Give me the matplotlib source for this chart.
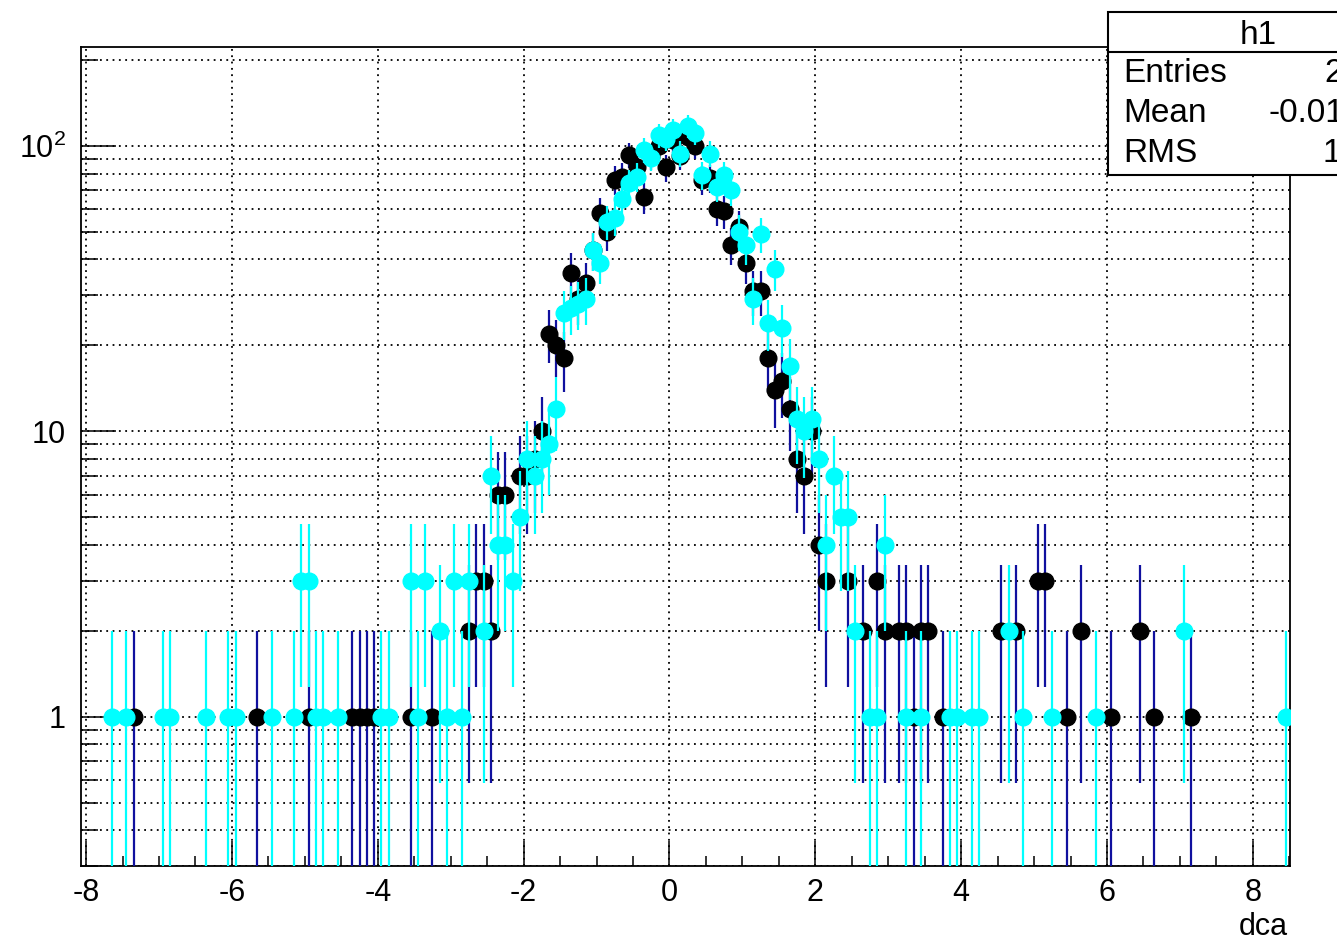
import numpy as np
import matplotlib
matplotlib.use("Agg")
import matplotlib.pyplot as plt
from matplotlib.ticker import LogLocator, FixedLocator, MultipleLocator, NullFormatter, FixedFormatter
from matplotlib.patches import Rectangle
from matplotlib.lines import Line2D

plt.rcParams["font.family"] = ["Liberation Sans", "DejaVu Sans"]
plt.rcParams["axes.unicode_minus"] = False

# DATA (bin centres, bin width 0.1)
black_x = [-7.35, -5.65, -4.95, -4.35, -4.25, -4.15, -4.05, -3.55, -3.25, -2.75,
           -2.65, -2.55, -2.45, -2.35, -2.25, -2.05, -1.95, -1.85, -1.75, -1.65,
           -1.55, -1.45, -1.35, -1.25, -1.15, -1.05, -0.95, -0.85, -0.75, -0.65,
           -0.55, -0.45, -0.35, -0.25, -0.15, -0.05, 0.05, 0.15, 0.25, 0.35,
           0.45, 0.55, 0.65, 0.75, 0.85, 0.95, 1.05, 1.15, 1.25, 1.35,
           1.45, 1.55, 1.65, 1.75, 1.85, 1.95, 2.05, 2.15, 2.45, 2.65,
           2.85, 2.95, 3.15, 3.25, 3.35, 3.45, 3.55, 3.75, 4.55, 4.75,
           5.05, 5.15, 5.45, 5.65, 6.05, 6.45, 6.65, 7.15]
black_n = [1, 1, 1, 1, 1, 1, 1, 1, 1, 2,
           3, 3, 2, 6, 6, 7, 7, 8, 10, 22,
           20, 18, 36, 29, 33, 43, 58, 50, 76, 78,
           93, 84, 66, 92, 100, 84, 105, 92, 107, 100,
           76, 77, 60, 59, 45, 52, 39, 31, 31, 18,
           14, 15, 12, 8, 7, 10, 4, 3, 3, 2,
           3, 2, 2, 2, 1, 2, 2, 1, 2, 2,
           3, 3, 1, 2, 1, 2, 1, 1]

cyan_x = [-7.65, -7.45, -6.95, -6.85, -6.35, -6.05, -5.95, -5.45, -5.15, -5.05,
          -4.95, -4.85, -4.75, -4.55, -3.95, -3.85, -3.55, -3.45, -3.35, -3.15,
          -3.05, -2.95, -2.85, -2.75, -2.55, -2.45, -2.35, -2.25, -2.15, -2.05,
          -1.95, -1.85, -1.75, -1.65, -1.55, -1.45, -1.35, -1.25, -1.15, -1.05,
          -0.95, -0.85, -0.75, -0.65, -0.55, -0.45, -0.35, -0.25, -0.15, -0.05,
          0.05, 0.15, 0.25, 0.35, 0.45, 0.55, 0.65, 0.75, 0.85, 0.95,
          1.05, 1.15, 1.25, 1.35, 1.45, 1.55, 1.65, 1.75, 1.85, 1.95,
          2.05, 2.15, 2.25, 2.35, 2.45, 2.55, 2.75, 2.85, 2.95, 3.25,
          3.45, 3.85, 3.95, 4.15, 4.25, 4.65, 4.85, 5.25, 5.85, 7.05, 8.45]
cyan_n = [1, 1, 1, 1, 1, 1, 1, 1, 1, 3,
          3, 1, 1, 1, 1, 1, 3, 1, 3, 2,
          1, 3, 1, 3, 2, 7, 4, 4, 3, 5,
          8, 7, 8, 9, 12, 26, 27, 28, 29, 43,
          39, 54, 56, 65, 74, 78, 97, 91, 109, 106,
          114, 94, 117, 111, 79, 94, 72, 79, 70, 50,
          45, 29, 49, 24, 37, 23, 17, 11, 10, 11,
          8, 4, 7, 5, 5, 2, 1, 1, 4, 1,
          1, 1, 1, 1, 1, 2, 1, 1, 1, 2, 1]

x_ticks = [-8, -6, -4, -2, 0, 2, 4, 6, 8]
y_ticks = [1, 10, 100]
y_labels = ["1", "10", r"$\mathregular{10^{2}}$"]

stat_names = ["Entries", "Mean", "RMS"]
stat_values = ["2000", "-0.01164", "1.004"]

NAVY = "#10109e"
CYAN = "#00ffff"


def poisson_err(n):
    n = np.asarray(n, dtype=float)
    up = np.sqrt(n)
    lo = n - np.clip(n - np.sqrt(n), 0.01, None)
    return np.vstack([lo, up])


fig = plt.figure(figsize=(13.37, 9.41), dpi=100)
ax = fig.add_axes([81 / 1337, 1 - 866 / 941, (1290 - 81) / 1337, (866 - 47) / 941])

ax.errorbar(black_x, black_n, yerr=poisson_err(black_n), fmt="o", color="black",
            ecolor=NAVY, elinewidth=1.6, markersize=12, capsize=0, zorder=3)
ax.errorbar(cyan_x, cyan_n, yerr=poisson_err(cyan_n), fmt="o", color=CYAN,
            ecolor=CYAN, elinewidth=1.6, markersize=12, capsize=0, zorder=4)

ax.set_yscale("log")
ax.set_xlim(-8.07, 8.51)
ax.set_ylim(0.3, 222)

ax.xaxis.set_major_locator(FixedLocator(x_ticks))
ax.xaxis.set_minor_locator(MultipleLocator(0.5))
ax.yaxis.set_major_locator(FixedLocator(y_ticks))
ax.yaxis.set_major_formatter(FixedFormatter(y_labels))
ax.yaxis.set_minor_locator(LogLocator(base=10, subs=np.arange(2, 10)))
ax.yaxis.set_minor_formatter(NullFormatter())

ax.tick_params(axis="both", which="both", direction="in", labelsize=22, width=1.1, color="black")
ax.tick_params(axis="x", which="major", length=18, pad=8.5)
ax.tick_params(axis="x", which="minor", length=7)
ax.tick_params(axis="y", which="major", length=25, pad=11)
ax.tick_params(axis="y", which="minor", length=12)

ax.grid(True, axis="x", which="major", color="black", linestyle=(0, (1, 2.5)), linewidth=1.3)
ax.grid(True, axis="y", which="both", color="black", linestyle=(0, (1, 2.5)), linewidth=1.3)
ax.set_axisbelow(True)
for s in ax.spines.values():
    s.set_linewidth(1.3)

fig.text(1288 / 1337, 1 - 935 / 941, "dca", ha="right", va="baseline", fontsize=22)

# stats box (runs past the right edge, as in the reference)
bx0, bx1, by0, by1 = 1108, 1408, 12, 175
fig.patches.append(Rectangle((bx0 / 1337, 1 - by1 / 941), (bx1 - bx0) / 1337, (by1 - by0) / 941,
                             transform=fig.transFigure, facecolor="white", edgecolor="black",
                             linewidth=1.5, zorder=10))
fig.lines.append(Line2D([bx0 / 1337, bx1 / 1337], [1 - 52 / 941, 1 - 52 / 941],
                        transform=fig.transFigure, color="black", linewidth=1.5, zorder=11))
fig.text((bx0 + bx1) / 2 / 1337, 1 - 35 / 941, "h1", ha="center", va="center", fontsize=24, zorder=12)
value_right = [1398, 1398, 1406]
for i, (name, val) in enumerate(zip(stat_names, stat_values)):
    yy = 1 - (74 + 40 * i) / 941
    fig.text(1123 / 1337, yy, name, ha="left", va="center", fontsize=24, zorder=12)
    fig.text(value_right[i] / 1337, yy, val, ha="right", va="center", fontsize=24, zorder=12)

fig.savefig("out.png", dpi=100)
